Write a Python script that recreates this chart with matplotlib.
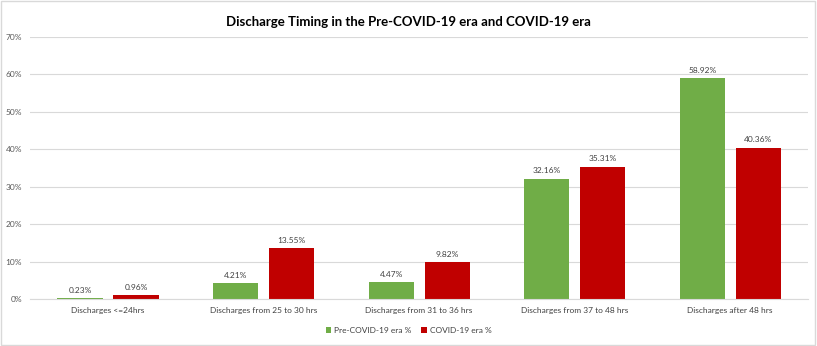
import matplotlib
matplotlib.use('Agg')
import matplotlib.pyplot as plt
import numpy as np
from matplotlib.patches import Rectangle

# donnees
categories = ['Discharges <=24hrs', 'Discharges from 25 to 30 hrs', 'Discharges from 31 to 36 hrs',
              'Discharges from 37 to 48 hrs', 'Discharges after 48 hrs']
pre_covid = [0.23, 4.21, 4.47, 32.16, 58.92]
covid = [0.96, 13.55, 9.82, 35.31, 40.36]
series_names = ['Pre-COVID-19 era %', 'COVID-19 era %']
yticks = [0, 10, 20, 30, 40, 50, 60, 70]

green = '#70AD47'
red = '#C00000'

plt.rcParams['font.family'] = ['Lato', 'DejaVu Sans']

fig = plt.figure(figsize=(8.17, 3.46), dpi=100)
ax = fig.add_axes([0.037, 0.136, 0.952, 0.757])

x = np.arange(len(categories))
w = 0.29
off = 0.18
b1 = ax.bar(x - off, pre_covid, w, color=green, label=series_names[0])
b2 = ax.bar(x + off, covid, w, color=red, label=series_names[1])

for bars, vals in [(b1, pre_covid), (b2, covid)]:
    for bar, v in zip(bars, vals):
        ax.text(bar.get_x() + bar.get_width() / 2, v + 1.2, f'{v:.2f}%',
                ha='center', va='bottom', fontsize=6, color='#404040')

ax.set_xlim(-0.5, len(categories) - 0.5)
ax.set_ylim(0, 70)
ax.set_yticks(yticks)
ax.set_yticklabels([f'{t}%' for t in yticks], fontsize=6, color='#595959')
ax.set_xticks(x)
ax.set_xticklabels(categories, fontsize=6, color='#404040')
ax.tick_params(axis='both', length=0, pad=6)
ax.grid(axis='y', color='#D9D9D9', linewidth=0.8)
ax.set_axisbelow(True)
for s in ['top', 'right', 'left']:
    ax.spines[s].set_visible(False)
ax.spines['bottom'].set_color('#D9D9D9')

fig.suptitle('Discharge Timing in the Pre-COVID-19 era and COVID-19 era',
             fontsize=9.5, fontweight='bold', y=0.955)

fig.legend(loc='center', bbox_to_anchor=(0.5, 0.045), ncol=2, frameon=False,
           fontsize=6, handlelength=0.7, handleheight=0.7, handletextpad=0.3,
           columnspacing=1.2, labelcolor='#404040')

fig.patches.append(Rectangle((0.001, 0.002), 0.997, 0.995, transform=fig.transFigure,
                             fill=False, edgecolor='#D9D9D9', linewidth=1))

plt.savefig('out.png', dpi=100)
